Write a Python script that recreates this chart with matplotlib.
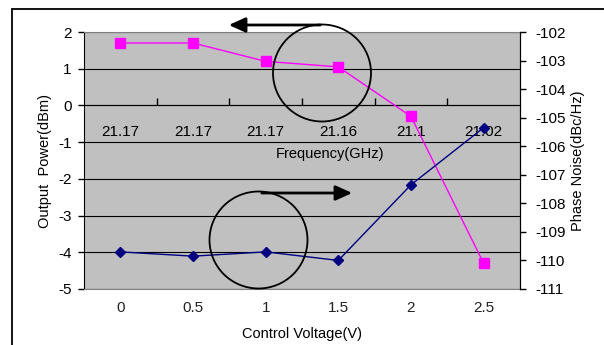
import numpy as np
import matplotlib.pyplot as plt
from matplotlib.patches import Ellipse, Rectangle

plt.rcParams['font.family'] = ['Liberation Sans', 'DejaVu Sans']
plt.rcParams['axes.unicode_minus'] = False

## Données
voltage = ['0', '0.5', '1', '1.5', '2', '2.5']
frequency = ['21.17', '21.17', '21.17', '21.16', '21.1', '21.02']
output_power = [1.7, 1.7, 1.2, 1.05, -0.3, -4.3]
phase_noise = [-109.7, -109.85, -109.7, -110.0, -107.35, -105.35]

W, H = 604, 345
fig = plt.figure(figsize=(W / 100, H / 100), dpi=100)
ax = fig.add_axes([84 / W, 1 - 289 / H, (520 - 84) / W, (289 - 32) / H])
ax.set_facecolor('#C0C0C0')
ax.set_zorder(1)

x = np.arange(len(voltage))

# Axe gauche : puissance
ax.set_xlim(-0.5, len(voltage) - 0.5)
ax.set_ylim(-5, 2)
ax.set_yticks(range(-5, 3))
ax.yaxis.grid(True, color='black', lw=0.8)
ax.set_axisbelow(True)
ax.tick_params(axis='y', direction='out', length=4, width=1, labelsize=11, pad=5)
ax.set_xticks(x)
ax.set_xticklabels(voltage)
ax.tick_params(axis='x', length=0, labelsize=11, pad=9, colors='#222222')
ax.set_ylabel('Output  Power(dBm)', fontsize=10.5, labelpad=4)
ax.set_xlabel('Control Voltage(V)', fontsize=10.5, labelpad=8)
for s in ['top', 'bottom']:
    ax.spines[s].set_color('#808080')
ax.spines['left'].set_color('black')

# Axe de fréquence sur la ligne 0
secax = ax.secondary_xaxis(5 / 7)
secax.set_xticks(np.arange(0.5, len(voltage) - 0.5, 1))
secax.set_xticklabels([])
secax.set_xticks(x, minor=True)
secax.set_xticklabels(frequency, minor=True)
secax.xaxis.set_ticks_position('bottom')
secax.xaxis.set_label_position('bottom')
secax.tick_params(which='both', bottom=True, top=False, labelbottom=True, labeltop=False)
secax.tick_params(which='major', direction='in', length=5, width=1)
secax.tick_params(which='minor', length=0, labelsize=11, pad=14)
secax.spines['bottom'].set_color('black')
secax.spines['top'].set_color('black')
secax.set_xlabel('Frequency(GHz)', fontsize=10.5, labelpad=6, x=0.565)

# Axe droit : bruit de phase
ax2 = ax.twinx()
ax2.set_ylim(-111, -102)
ax2.set_yticks(range(-111, -101))
ax2.tick_params(axis='y', direction='out', length=4, width=1, labelsize=11, pad=7)
ax2.set_ylabel('Phase Noise(dBc/Hz)', fontsize=10.5, labelpad=4)
for s in ['top', 'bottom', 'left']:
    ax2.spines[s].set_visible(False)
ax2.spines['right'].set_color('black')
ax2.set_zorder(2)

ax2.plot(x, phase_noise, color='#000080', lw=1, marker='D', ms=5, clip_on=False)
ax.plot(x, output_power, color='#FF00FF', lw=1, marker='s', ms=7, clip_on=False, zorder=3)

# Cercles et flèches
for cx, cy in [(322, 73), (258.5, 240)]:
    fig.patches.append(Ellipse((cx / W, 1 - cy / H), 98 / W, 97 / H, transform=fig.transFigure,
                               fill=False, ec='black', lw=1.3, zorder=10))
ax.annotate('', xy=(226 / W, 1 - 25 / H), xytext=(323 / W, 1 - 25 / H),
            xycoords='figure fraction', textcoords='figure fraction',
            arrowprops=dict(arrowstyle='-|>,head_length=1.0,head_width=0.45', color='black', lw=2),
            annotation_clip=False, zorder=11)
ax.annotate('', xy=(355 / W, 1 - 193 / H), xytext=(259 / W, 1 - 193 / H),
            xycoords='figure fraction', textcoords='figure fraction',
            arrowprops=dict(arrowstyle='-|>,head_length=1.0,head_width=0.45', color='black', lw=2),
            annotation_clip=False, zorder=11)

# Cadre extérieur
fig.patches.append(Rectangle((12 / W, -0.1), 1.2, 1 - 9 / H + 0.1, transform=fig.transFigure,
                             fill=False, ec='black', lw=1.3))

fig.savefig('out.png', dpi=100)
